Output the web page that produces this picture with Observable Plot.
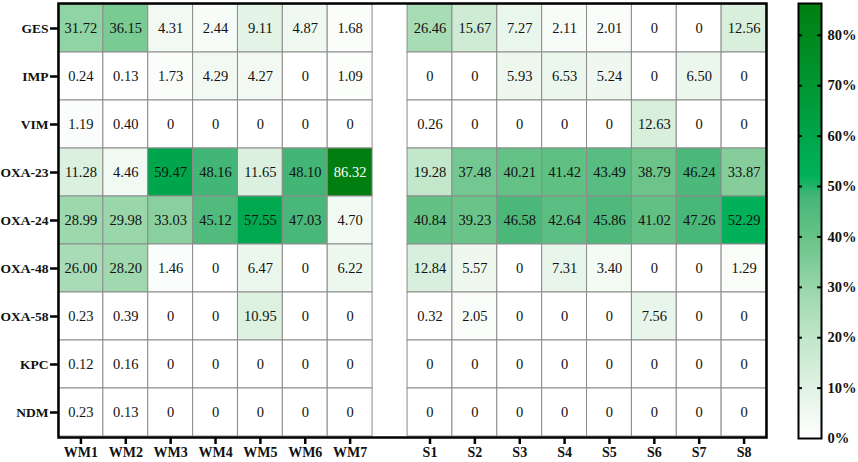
<!DOCTYPE html>
<html>
<head>
<meta charset="utf-8">
<script src="https://cdn.jsdelivr.net/npm/d3@7"></script>
<script src="https://cdn.jsdelivr.net/npm/@observablehq/plot@0.6"></script>
<style>
  body { margin: 0; background: #fff; }
  #wrap { position: relative; width: 858px; height: 462px; }
  #bar { position: absolute; left: 780px; top: 0; }
</style>
</head>
<body>
<div id="wrap"><div id="main"></div><div id="bar"></div></div>
<script>
// ---- data ----
const genes = ["GES", "IMP", "VIM", "OXA-23", "OXA-24", "OXA-48", "OXA-58", "KPC", "NDM"];
const wmSamples = ["WM1", "WM2", "WM3", "WM4", "WM5", "WM6", "WM7"];
const sSamples = ["S1", "S2", "S3", "S4", "S5", "S6", "S7", "S8"];
// each row: WM1..WM7, then S1..S8
const ges   = [31.72, 36.15, 4.31, 2.44, 9.11, 4.87, 1.68,   26.46, 15.67, 7.27, 2.11, 2.01, 0, 0, 12.56];
const imp   = [0.24, 0.13, 1.73, 4.29, 4.27, 0, 1.09,        0, 0, 5.93, 6.53, 5.24, 0, 6.50, 0];
const vim   = [1.19, 0.40, 0, 0, 0, 0, 0,                    0.26, 0, 0, 0, 0, 12.63, 0, 0];
const oxa23 = [11.28, 4.46, 59.47, 48.16, 11.65, 48.10, 86.32, 19.28, 37.48, 40.21, 41.42, 43.49, 38.79, 46.24, 33.87];
const oxa24 = [28.99, 29.98, 33.03, 45.12, 57.55, 47.03, 4.70,  40.84, 39.23, 46.58, 42.64, 45.86, 41.02, 47.26, 52.29];
const oxa48 = [26.00, 28.20, 1.46, 0, 6.47, 0, 6.22,         12.84, 5.57, 0, 7.31, 3.40, 0, 0, 1.29];
const oxa58 = [0.23, 0.39, 0, 0, 10.95, 0, 0,                0.32, 2.05, 0, 0, 0, 7.56, 0, 0];
const kpc   = [0.12, 0.16, 0, 0, 0, 0, 0,                    0, 0, 0, 0, 0, 0, 0, 0];
const ndm   = [0.23, 0.13, 0, 0, 0, 0, 0,                    0, 0, 0, 0, 0, 0, 0, 0];
const rows = [ges, imp, vim, oxa23, oxa24, oxa48, oxa58, kpc, ndm];
const legendTicks = [0, 10, 20, 30, 40, 50, 60, 70, 80];

// colour ramp stops (percent -> colour)
const colorStops = [0, 10, 20, 30, 40, 48, 52, 60, 70, 86.32];
const colorRange = ["#ffffff", "#e0f2e3", "#c0e6c9", "#99d6aa", "#66c287", "#45b677", "#00b15a", "#00a54a", "#009632", "#007f10"];

// ---- build table ----
const gap = 0.78; // blank column between the two groups, in cell widths
const samples = [...wmSamples, ...sSamples];
const colStart = samples.map((s, i) => i < wmSamples.length ? i : i + gap);
const data = [];
genes.forEach((g, gi) => {
  rows[gi].forEach((v, si) => {
    data.push({gene: g, sample: samples[si], x1: colStart[si], x2: colStart[si] + 1, value: v});
  });
});
const centers = colStart.map(c => c + 0.5);
const labelOf = new Map(centers.map((c, i) => [c, samples[i]]));
const xMax = samples.length + gap;
const font = "'Liberation Serif', 'Times New Roman', serif";

const colorOpts = {type: "linear", domain: colorStops, range: colorRange, interpolate: "rgb"};

const main = Plot.plot({
  width: 858,
  height: 462,
  marginLeft: 58,
  marginRight: 92,
  marginTop: 3,
  marginBottom: 25,
  style: {fontFamily: font, background: "#fff"},
  x: {domain: [0, xMax], axis: null},
  y: {domain: genes, padding: 0, axis: null},
  color: colorOpts,
  marks: [
    Plot.rect(data, {x1: "x1", x2: "x2", y: "gene", fill: "value", stroke: "#8c8c8c", strokeWidth: 1}),
    Plot.text(data, {
      x: d => (d.x1 + d.x2) / 2, y: "gene",
      text: d => d.value === 0 ? "0" : d.value.toFixed(2),
      fill: d => d.value > 70 ? "#ffffff" : "#111111",
      fontSize: 14.5, fontFamily: font
    }),
    Plot.frame({stroke: "#000", strokeWidth: 2.5}),
    Plot.axisY({anchor: "left", tickSize: 8, tickPadding: 2, strokeWidth: 2.5, fontSize: 13.5, fontWeight: "bold", fontFamily: font, fill: "#111", label: null}),
    Plot.axisX({anchor: "bottom", ticks: centers, tickFormat: v => labelOf.get(v), tickSize: 7, tickPadding: 3, strokeWidth: 2.5, fontSize: 14, fontWeight: "bold", fontFamily: font, fill: "#111", label: null})
  ]
});
document.getElementById("main").appendChild(main);

// ---- colour bar ----
const maxVal = colorStops[colorStops.length - 1];
const step = 0.2;
const slices = d3.range(0, maxVal, step).map(v => ({y1: v, y2: Math.min(v + step * 2, maxVal), v: v + step / 2}));
const bar = Plot.plot({
  width: 78,
  height: 462,
  marginLeft: 18,
  marginRight: 37,
  marginTop: 3,
  marginBottom: 24,
  style: {fontFamily: font, background: "transparent"},
  x: {domain: [0, 1], axis: null},
  y: {domain: [0, maxVal], axis: null},
  color: colorOpts,
  marks: [
    Plot.rect(slices, {x1: 0, x2: 1, y1: "y1", y2: "y2", fill: "v", shapeRendering: "crispEdges"}),
    Plot.ruleY(legendTicks.slice(1), {x1: 0, x2: 0.17, stroke: "#000", strokeWidth: 2}),
    Plot.ruleY(legendTicks.slice(1), {x1: 0.83, x2: 1, stroke: "#000", strokeWidth: 2}),
    Plot.frame({stroke: "#000", strokeWidth: 2}),
    Plot.axisY({anchor: "right", ticks: legendTicks, tickSize: 0, tickPadding: 6, tickFormat: d => d + "%", fontSize: 14.5, fontWeight: "bold", fontFamily: font, fill: "#111", label: null})
  ]
});
document.getElementById("bar").appendChild(bar);
</script>
</body>
</html>
